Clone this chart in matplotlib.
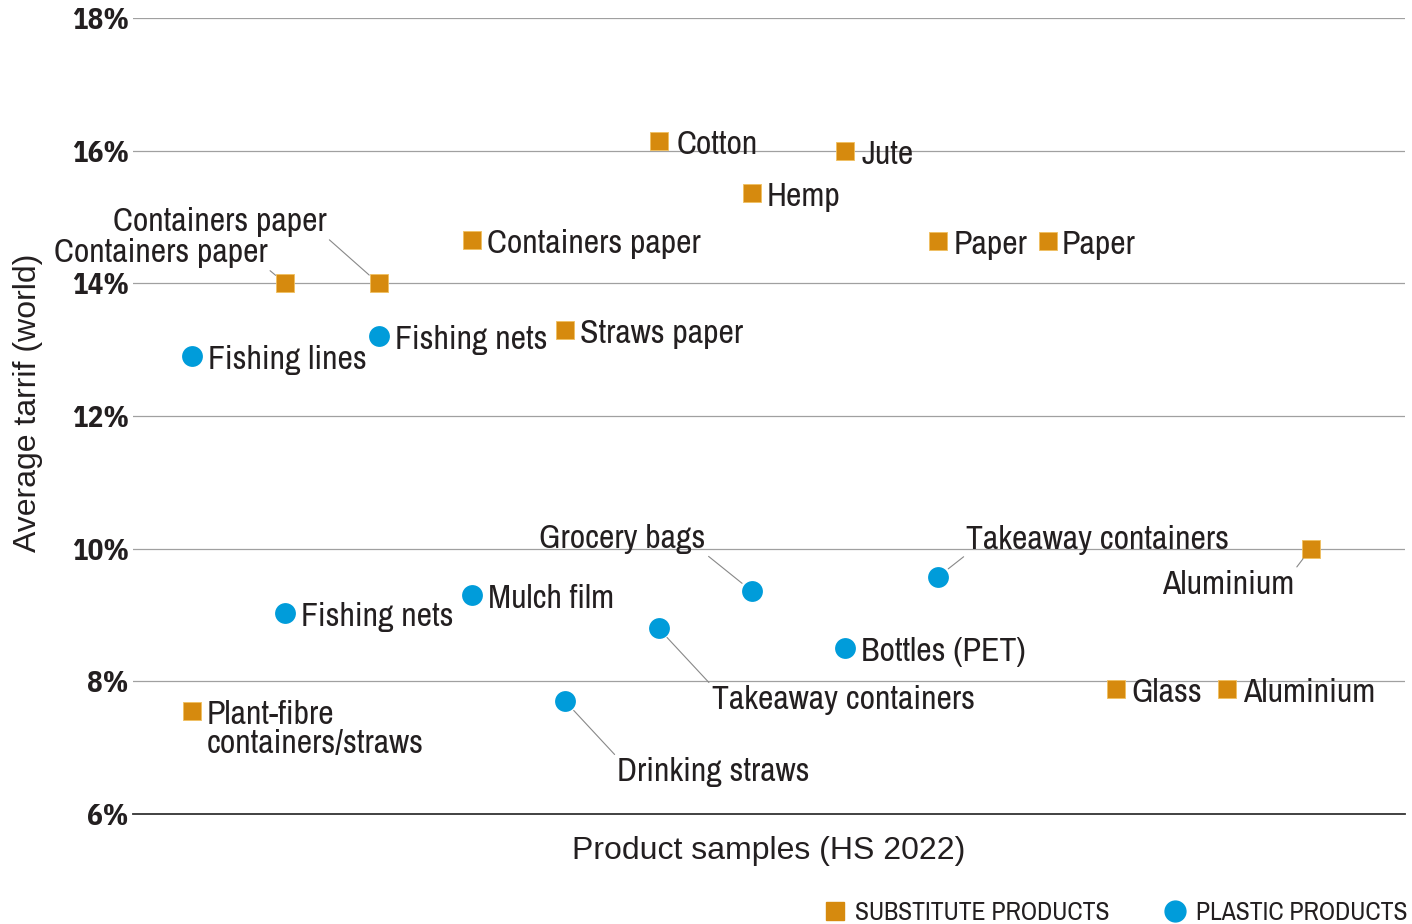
import matplotlib
matplotlib.use('Agg')
import matplotlib.pyplot as plt
from matplotlib.lines import Line2D

NARROW = ['Archivo Narrow', 'Liberation Sans Narrow', 'DejaVu Sans']
TICKFONT = ['IBM Plex Sans Condensed', 'Liberation Sans', 'DejaVu Sans']
WIDE = ['Liberation Sans', 'DejaVu Sans']

ORANGE = '#D68A0E'
BLUE = '#009CDA'
TEXT = '#231f20'

# plastic products (circles)
plastic_names = ['Fishing lines', 'Fishing nets', 'Fishing nets', 'Mulch film', 'Takeaway containers',
                 'Drinking straws', 'Grocery bags', 'Bottles (PET)', 'Takeaway containers']
plastic_x = [0, 2, 1, 3, 5, 4, 6, 7, 8]
plastic_y = [12.9, 13.2, 9.03, 9.3, 8.8, 7.7, 9.36, 8.5, 9.58]

# substitute products (squares)
subst_names = ['Plant-fibre\ncontainers/straws', 'Containers paper', 'Containers paper', 'Containers paper',
               'Straws paper', 'Cotton', 'Hemp', 'Jute', 'Paper', 'Paper', 'Glass', 'Aluminium', 'Aluminium']
subst_x = [0, 1, 2, 3, 4, 5, 6, 7, 8, 9.17, 9.9, 11.09, 11.99]
subst_y = [7.56, 14.0, 14.0, 14.65, 13.3, 16.15, 15.36, 16.0, 14.64, 14.64, 7.89, 7.89, 10.0]

yticks = [6, 8, 10, 12, 14, 16, 18]

# label layout: (dx, dy in pixels, ha, leader line relpos or None)
plastic_lay = [(16, -4, 'left', None), (16, -4, 'left', None), (16, -4, 'left', None), (16, -4, 'left', None),
               (53, -72, 'left', (0, 1)), (52, -71, 'left', (0, 1)), (-46, 52, 'right', (1, 0)),
               (16, -4, 'left', None), (28, 37, 'left', (0, 0))]
subst_lay = [(15, -19, 'left', None), (-18, 30, 'right', (1, 0)), (-52, 61, 'right', (1, 0)),
             (15, -4, 'left', None), (15, -4, 'left', None), (18, -4, 'left', None), (15, -4, 'left', None),
             (16, -4, 'left', None), (15, -4, 'left', None), (14, -4, 'left', None), (16, -4, 'left', None),
             (16, -4, 'left', None), (-16, -36, 'right', (1, 1))]

fig = plt.figure(figsize=(14.12, 9.24), dpi=100)
ax = fig.add_axes([0.0942, 0.119, 0.9008, 0.8615])

ax.set_xlim(-0.632, 13.0)
ax.set_ylim(6, 18)
ax.set_yticks(yticks)
ax.set_yticklabels([f'{t}%' for t in yticks], family=TICKFONT, fontweight='bold', fontsize=21, color=TEXT)
ax.set_xticks([])
ax.tick_params(axis='y', length=0, pad=3)
for s in ['top', 'right', 'left']:
    ax.spines[s].set_visible(False)
ax.spines['bottom'].set_color('#333333')
ax.spines['bottom'].set_linewidth(1.3)
for t in yticks[1:]:
    ax.axhline(t, color='#a0a0a0', lw=0.9, zorder=0)

ax.scatter(subst_x, subst_y, marker='s', s=13.5 ** 2, color=ORANGE, edgecolors='#f0c060', linewidths=0.6,
           zorder=3, clip_on=False)
ax.scatter(plastic_x, plastic_y, marker='o', s=15 ** 2, color=BLUE, linewidths=0, zorder=3, clip_on=False)


def put_labels(names, xs, ys, lay):
    for name, x, y, (dx, dy, ha, rel) in zip(names, xs, ys, lay):
        kw = {}
        if rel is not None:
            kw['arrowprops'] = dict(arrowstyle='-', color='#888888', lw=0.8, relpos=rel,
                                    shrinkA=0, shrinkB=9)
        ax.annotate(name, (x, y), xytext=(dx, dy), textcoords='offset pixels', ha=ha, va='center',
                    family=NARROW, fontsize=24.3, color=TEXT, linespacing=0.97, **kw)


put_labels(plastic_names, plastic_x, plastic_y, plastic_lay)
put_labels(subst_names, subst_x, subst_y, subst_lay)

ax.set_ylabel('Average tarrif (world)', family=WIDE, fontsize=23, color=TEXT)
ax.yaxis.set_label_coords(-0.071, 0.516)
ax.set_xlabel('Product samples (HS 2022)', family=WIDE, fontsize=23, color=TEXT, labelpad=16)

handles = [Line2D([], [], marker='s', ls='', color=ORANGE, ms=13),
           Line2D([], [], marker='o', ls='', color=BLUE, ms=15)]
leg = fig.legend(handles, ['SUBSTITUTE PRODUCTS', 'PLASTIC PRODUCTS'], ncol=2, frameon=False,
                 loc='lower right', bbox_to_anchor=(1.013, -0.025), handletextpad=0.2, columnspacing=1.95,
                 handlelength=1.2, prop={'family': NARROW, 'size': 18.5})
for t in leg.get_texts():
    t.set_color(TEXT)

fig.savefig('out.png', dpi=100)
